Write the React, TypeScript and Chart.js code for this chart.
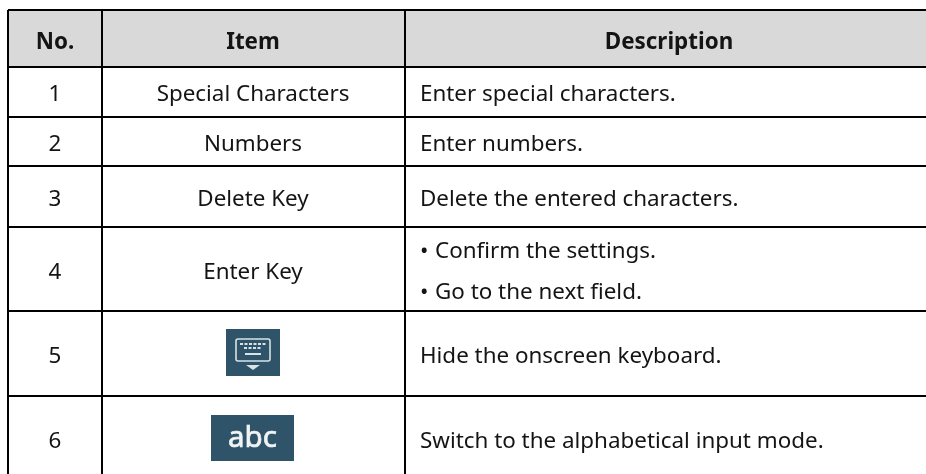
import React, { useEffect, useRef } from "react";
import { Chart, registerables } from "chart.js";

Chart.register(...registerables);

const headers = ["No.", "Item", "Description"];
const numbers = ["1", "2", "3", "4", "5", "6"];
const items = ["Special Characters", "Numbers", "Delete Key", "Enter Key", "", ""];
const descriptions = [
  ["Enter special characters."],
  ["Enter numbers."],
  ["Delete the entered characters."],
  ["• Confirm the settings.", "• Go to the next field."],
  ["Hide the onscreen keyboard."],
  ["Switch to the alphabetical input mode."],
];

// Table geometry, in scale units (1 unit = 1px on the page)
const columnEdges = [8, 102, 405];
const rowEdges = [10, 67, 117, 166, 227, 311, 396];
const X_MAX = 926;
const Y_MAX = 474;

const FONT = '"Noto Sans"';
const SIZE = 22.4;
const INK = "#141414";
const ICON = "#2f5368";
const ICON_INK = "#d7e3e6";

const tablePlugin = {
  id: "table",
  beforeDraw(chart: any) {
    const { ctx, scales } = chart;
    const x = scales.x;
    const y = scales.y;
    ctx.save();
    ctx.fillStyle = "#ffffff";
    ctx.fillRect(0, 0, chart.width, chart.height);
    ctx.fillStyle = "#d9d9d9";
    ctx.fillRect(
      x.getPixelForValue(columnEdges[0]),
      y.getPixelForValue(rowEdges[0]),
      x.getPixelForValue(X_MAX) - x.getPixelForValue(columnEdges[0]),
      y.getPixelForValue(rowEdges[1]) - y.getPixelForValue(rowEdges[0]),
    );
    ctx.restore();
  },
  afterDraw(chart: any) {
    const { ctx, scales } = chart;
    const x = scales.x;
    const y = scales.y;
    const noCenter = x.getPixelForValue(55);
    const itemCenter = x.getPixelForValue(253);
    const descLeft = x.getPixelForValue(420);
    const descCenter = x.getPixelForValue(669);
    ctx.save();
    ctx.fillStyle = INK;
    ctx.textBaseline = "alphabetic";

    ctx.font = `bold ${SIZE}px ${FONT}`;
    ctx.textAlign = "center";
    const headerBase = y.getPixelForValue(49);
    ctx.fillText(headers[0], noCenter, headerBase);
    ctx.fillText(headers[1], itemCenter, headerBase);
    ctx.fillText(headers[2], descCenter, headerBase);

    ctx.font = `${SIZE}px ${FONT}`;
    const baselines = [101, 151, 206, 279, 363, 448];
    numbers.forEach((n, i) => {
      const base = baselines[i];
      ctx.textAlign = "center";
      ctx.fillText(n, noCenter, y.getPixelForValue(base));
      if (items[i]) ctx.fillText(items[i], itemCenter, y.getPixelForValue(base));
      ctx.textAlign = "left";
      const lines = descriptions[i];
      if (lines.length === 1) {
        ctx.fillText(lines[0], descLeft, y.getPixelForValue(base));
      } else {
        [258, 299].forEach((b, j) => {
          const [bullet, rest] = [lines[j].slice(0, 1), lines[j].slice(2)];
          ctx.fillText(bullet, descLeft, y.getPixelForValue(b));
          ctx.fillText(rest, x.getPixelForValue(435), y.getPixelForValue(b));
        });
      }
    });

    // Keyboard icon (row 5)
    ctx.fillStyle = ICON;
    ctx.fillRect(x.getPixelForValue(226), y.getPixelForValue(329), 54, 47);
    ctx.strokeStyle = ICON_INK;
    ctx.lineWidth = 1.6;
    ctx.beginPath();
    ctx.roundRect(x.getPixelForValue(236), y.getPixelForValue(339), 34, 22, 2);
    ctx.stroke();
    ctx.fillStyle = ICON_INK;
    [0, 1, 2, 3, 4, 5].forEach((k) => ctx.fillRect(x.getPixelForValue(240 + k * 4.5), y.getPixelForValue(343), 3, 2));
    [0, 1, 2, 3].forEach((k) => ctx.fillRect(x.getPixelForValue(244 + k * 4.5), y.getPixelForValue(347), 3, 2));
    ctx.fillRect(x.getPixelForValue(245), y.getPixelForValue(353), 16, 2);
    ctx.beginPath();
    ctx.moveTo(x.getPixelForValue(246), y.getPixelForValue(365));
    ctx.lineTo(x.getPixelForValue(260), y.getPixelForValue(365));
    ctx.lineTo(x.getPixelForValue(253), y.getPixelForValue(370));
    ctx.closePath();
    ctx.fill();

    // abc icon (row 6)
    ctx.fillStyle = ICON;
    ctx.fillRect(x.getPixelForValue(211), y.getPixelForValue(415), 83, 46);
    ctx.fillStyle = "#f0f4f5";
    ctx.strokeStyle = "#f0f4f5";
    ctx.lineWidth = 0.7;
    ctx.font = `29.5px ${FONT}`;
    ctx.textAlign = "center";
    ctx.fillText("abc", x.getPixelForValue(252.5), y.getPixelForValue(447));
    ctx.strokeText("abc", x.getPixelForValue(252.5), y.getPixelForValue(447));
    ctx.restore();
  },
};

export default function App() {
  const ref = useRef<HTMLCanvasElement>(null);
  useEffect(() => {
    document.body.style.margin = "0";
    const chart = new Chart(ref.current!, {
      type: "scatter",
      data: { datasets: [{ data: [], pointRadius: 0 }] },
      plugins: [tablePlugin],
      options: {
        responsive: false,
        animation: false,
        layout: { padding: { left: columnEdges[0], top: rowEdges[0], right: 0, bottom: 0 } },
        plugins: { legend: { display: false }, tooltip: { enabled: false } },
        scales: {
          x: {
            type: "linear",
            min: columnEdges[0],
            max: X_MAX,
            afterBuildTicks: (s: any) => {
              s.ticks = columnEdges.map((value) => ({ value }));
            },
            ticks: { display: false },
            border: { display: false },
            grid: { color: "#000000", lineWidth: 2, drawTicks: false },
          },
          y: {
            type: "linear",
            reverse: true,
            min: rowEdges[0],
            max: Y_MAX,
            afterBuildTicks: (s: any) => {
              s.ticks = rowEdges.map((value) => ({ value }));
            },
            ticks: { display: false },
            border: { display: false },
            grid: { color: "#000000", lineWidth: 2, drawTicks: false },
          },
        },
      },
    } as any);
    return () => chart.destroy();
  }, []);
  return <canvas ref={ref} width={926} height={474} style={{ display: "block", width: 926, height: 474 }} />;
}
